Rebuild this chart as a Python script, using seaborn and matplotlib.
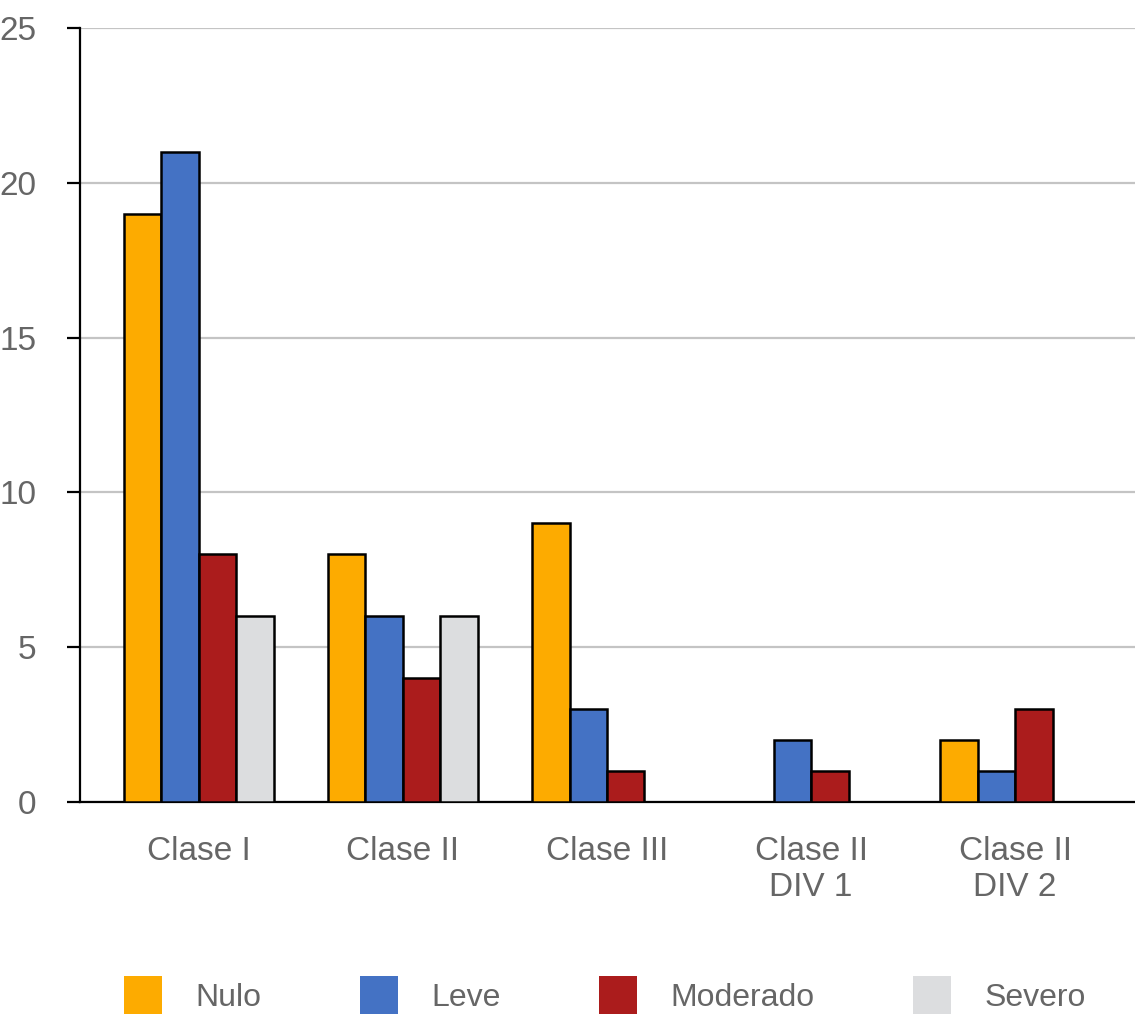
import numpy as np
import pandas as pd
import matplotlib
matplotlib.use("Agg")
import matplotlib.pyplot as plt
import seaborn as sb

# data
clases = ["Clase I", "Clase II", "Clase III", "Clase II\nDIV 1", "Clase II\nDIV 2"]
grados = ["Nulo", "Leve", "Moderado", "Severo"]
nulo = [19, 8, 9, np.nan, 2]
leve = [21, 6, 3, 2, 1]
moderado = [8, 4, 1, 1, 3]
severo = [6, 6, np.nan, np.nan, np.nan]
colores = ["#FDAB00", "#4472C4", "#AB1C1C", "#DCDDDF"]

rows = []
for g, vals in zip(grados, [nulo, leve, moderado, severo]):
    for c, v in zip(clases, vals):
        rows.append({"Clase": c, "Grado": g, "Valor": v})
df = pd.DataFrame(rows).dropna()

sb.set_style("white")
plt.rcParams["font.family"] = ["Liberation Sans", "DejaVu Sans"]

fig = plt.figure(figsize=(11.35, 10.24), dpi=100)
ax = fig.add_axes([0.0705, 0.2168, 0.9295, 0.7559])

sb.barplot(data=df, x="Clase", y="Valor", hue="Grado", order=clases,
           hue_order=grados, palette=colores, width=0.735, gap=0,
           errorbar=None, edgecolor="black", linewidth=1.8, ax=ax,
           saturation=1, zorder=3)

ax.set_ylim(0, 25)
ax.set_xlim(-0.583, 4.588)
ax.set_yticks([0, 5, 10, 15, 20, 25])
ax.yaxis.grid(True, color="#C4C4C4", linewidth=1.6, zorder=0)
ax.set_axisbelow(True)
for s in ["top", "right"]:
    ax.spines[s].set_visible(False)
ax.spines["left"].set_color("black")
ax.spines["left"].set_linewidth(1.6)
ax.spines["bottom"].set_color("black")
ax.spines["bottom"].set_linewidth(1.6)
ax.tick_params(axis="y", left=True, length=9.5, width=1.6, color="black",
               pad=22, labelsize=24, labelcolor="#666666")
ax.tick_params(axis="x", bottom=False, pad=21, labelsize=24, labelcolor="#666666")
for lbl in ax.get_xticklabels():
    lbl.set_linespacing(1.2)
ax.set_xlabel("")
ax.set_ylabel("")

ax.get_legend().remove()
handles, labels = ax.get_legend_handles_labels()
for h in handles:
    h.set_edgecolor("none")
leg = fig.legend(handles, labels, loc="center", bbox_to_anchor=(0.533, 0.028),
                 ncol=4, frameon=False, fontsize=23, handlelength=1.19,
                 handleheight=1.45, handletextpad=1.03, columnspacing=3.1,
                 labelcolor="#666666")

fig.savefig("out.png", dpi=100)
